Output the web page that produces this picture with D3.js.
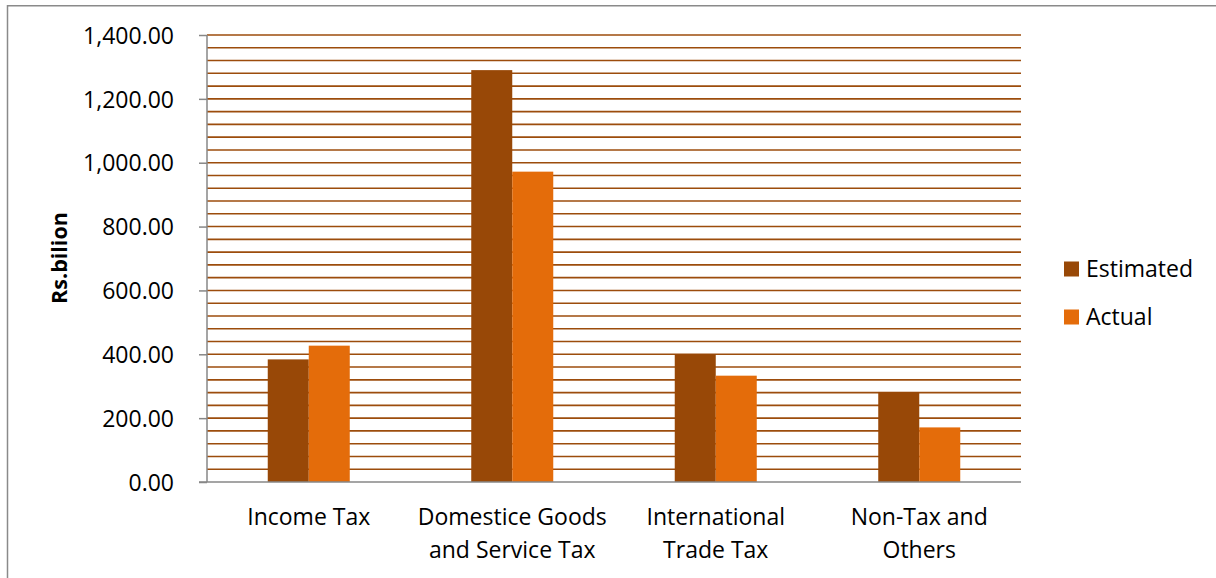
<!DOCTYPE html>
<html>
<head>
<meta charset="utf-8">
<script src="https://cdn.jsdelivr.net/npm/d3@7"></script>
<style>
  html, body { margin: 0; padding: 0; background: #ffffff; }
  svg { display: block; }
  text { font-family: "Open Sans", "Noto Sans", sans-serif; fill: #000; }
</style>
</head>
<body>
<svg id="chart" width="1216" height="578"></svg>
<script>
// Revenue by category, Rs. billion
const categories = [
  ["Income Tax"],
  ["Domestice Goods", "and Service Tax"],
  ["International", "Trade Tax"],
  ["Non-Tax and", "Others"]
];
const seriesNames = ["Estimated", "Actual"];
const estimated = [384, 1290, 400, 282];
const actual = [427, 972, 333, 171];
const yTicks = [0, 200, 400, 600, 800, 1000, 1200, 1400];
const gridStep = 40;

const colors = { Estimated: "#984807", Actual: "#E46C0A" };
const seriesValues = { Estimated: estimated, Actual: actual };

const svg = d3.select("#chart");
const plot = { left: 207, right: 1021, top: 35, bottom: 482 };

// Chart frame
svg.append("path")
  .attr("d", "M7.5,578 L7.5,5.75 L1216,5.75")
  .attr("fill", "none")
  .attr("stroke", "#8a8a8a")
  .attr("stroke-width", 1.5);

const y = d3.scaleLinear().domain([0, 1400]).range([plot.bottom, plot.top]);
const catKeys = categories.map(c => c.join(" "));
const x0 = d3.scaleBand().domain(catKeys).range([plot.left, plot.right]);
const groupFrac = 0.403;
const gOff = x0.bandwidth() * (1 - groupFrac) / 2;
const x1 = d3.scaleBand().domain(seriesNames).range([gOff, x0.bandwidth() - gOff]);

// Horizontal gridlines every 40
const gridVals = d3.range(gridStep, 1400 + 1, gridStep);
svg.append("g").selectAll("line").data(gridVals).join("line")
  .attr("x1", plot.left).attr("x2", plot.right)
  .attr("y1", d => y(d)).attr("y2", d => y(d))
  .attr("stroke", "#9c4c0c")
  .attr("stroke-width", 1.6);

// Bars
const barG = svg.append("g");
seriesNames.forEach(s => {
  barG.append("g").selectAll("rect").data(seriesValues[s]).join("rect")
    .attr("x", (d, i) => x0(catKeys[i]) + x1(s))
    .attr("width", x1.bandwidth())
    .attr("y", d => y(d))
    .attr("height", d => y(0) - y(d))
    .attr("fill", colors[s]);
});

// Value axis
const yAxis = d3.axisLeft(y).tickValues(yTicks).tickSize(8)
  .tickFormat(d3.format(",.2f"));
const yg = svg.append("g").attr("transform", `translate(${plot.left},0)`).call(yAxis);
yg.select(".domain").attr("stroke", "#878787").attr("stroke-width", 1.5)
  .attr("d", `M0,${plot.top}V${plot.bottom}`);
yg.selectAll(".tick line").attr("stroke", "#878787").attr("stroke-width", 1.5);
yg.selectAll(".tick text")
  .attr("x", -33).attr("dy", "0.36em")
  .style("font-size", "23px")
  .style("font-family", "'Open Sans', sans-serif")
  .attr("fill", "#000");

// Category axis line
svg.append("line")
  .attr("x1", plot.left - 8).attr("x2", plot.right)
  .attr("y1", plot.bottom).attr("y2", plot.bottom)
  .attr("stroke", "#878787").attr("stroke-width", 1.5);

// Category labels
const catG = svg.append("g");
categories.forEach((lines, i) => {
  const cx = x0(catKeys[i]) + x0.bandwidth() / 2;
  const t = catG.append("text")
    .attr("text-anchor", "middle")
    .style("font-size", "23px");
  lines.forEach((ln, j) => {
    t.append("tspan").attr("x", cx).attr("y", 525 + j * 33).text(ln);
  });
});

// Axis title
svg.append("text")
  .attr("transform", "translate(67,258) rotate(-90)")
  .attr("text-anchor", "middle")
  .style("font-size", "21.5px")
  .style("font-weight", "bold")
  .text("Rs.bilion");

// Legend
const legend = svg.append("g");
seriesNames.forEach((s, i) => {
  const cy = 269 + i * 48;
  legend.append("rect")
    .attr("x", 1064).attr("y", cy - 7.5)
    .attr("width", 15).attr("height", 15)
    .attr("fill", colors[s]);
  legend.append("text")
    .attr("x", 1086).attr("y", cy + 8.2)
    .style("font-size", "23px")
    .text(s);
});
</script>
</body>
</html>
